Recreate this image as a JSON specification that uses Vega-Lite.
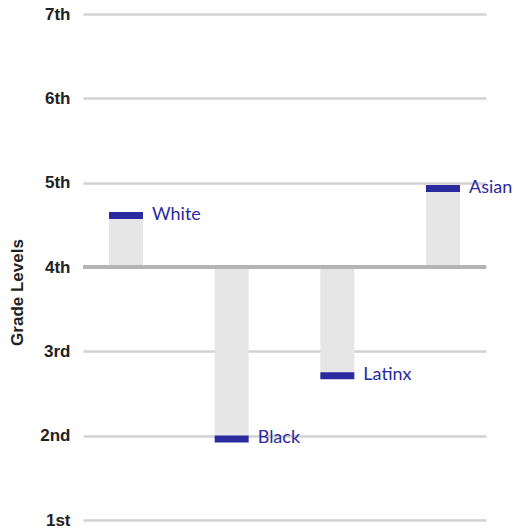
{
  "$schema": "https://vega.github.io/schema/vega-lite/v6.json",
  "autosize": {"type": "none"},
  "padding": {"left": 83, "top": 14, "right": 28, "bottom": 11},
  "width": 403,
  "height": 506,
  "background": "white",
  "config": {"view": {"stroke": null}},
  "data": {
    "values": [
      {"group": "White", "grade": 4.61},
      {"group": "Black", "grade": 1.96},
      {"group": "Latinx", "grade": 2.71},
      {"group": "Asian", "grade": 4.93}
    ]
  },
  "encoding": {
    "x": {
      "field": "group",
      "type": "nominal",
      "sort": null,
      "scale": {"paddingInner": 0.678, "paddingOuter": 0.246},
      "axis": null
    }
  },
  "layer": [
    {
      "mark": {"type": "bar", "color": "#e6e6e6"},
      "encoding": {
        "y": {
          "field": "grade",
          "type": "quantitative",
          "scale": {"domain": [1, 7], "nice": false, "zero": false},
          "axis": {
            "values": [1, 2, 3, 4, 5, 6, 7],
            "labelExpr": "datum.value == 1 ? '1st' : datum.value == 2 ? '2nd' : datum.value == 3 ? '3rd' : datum.value + 'th'",
            "domain": false,
            "ticks": false,
            "grid": true,
            "gridColor": "#d2d2d2",
            "gridWidth": 2.5,
            "labelPadding": 13,
            "labelFont": "Liberation Sans",
            "labelFontSize": 17,
            "labelFontWeight": "bold",
            "labelColor": "#222222",
            "title": "Grade Levels",
            "titleFont": "Liberation Sans",
            "titleFontSize": 17,
            "titleFontWeight": "bold",
            "titleColor": "#222222",
            "titleAngle": 270,
            "titleAlign": "center",
            "titleBaseline": "middle",
            "titleX": -66,
            "titleY": 278
          }
        },
        "y2": {"datum": 4}
      }
    },
    {
      "mark": {"type": "rule", "color": "#b4b4b4", "strokeWidth": 4},
      "encoding": {"y": {"datum": 4, "type": "quantitative"}, "x": null}
    },
    {
      "mark": {"type": "tick", "color": "#2b2a9e", "opacity": 1, "thickness": 7, "size": 34, "orient": "horizontal"},
      "encoding": {"y": {"field": "grade", "type": "quantitative"}}
    },
    {
      "mark": {"type": "text", "align": "left", "baseline": "middle", "dx": 26, "dy": -1, "font": "Lato", "fontSize": 18, "color": "#2b2a9e"},
      "encoding": {
        "y": {"field": "grade", "type": "quantitative"},
        "text": {"field": "group", "type": "nominal"}
      }
    }
  ]
}
